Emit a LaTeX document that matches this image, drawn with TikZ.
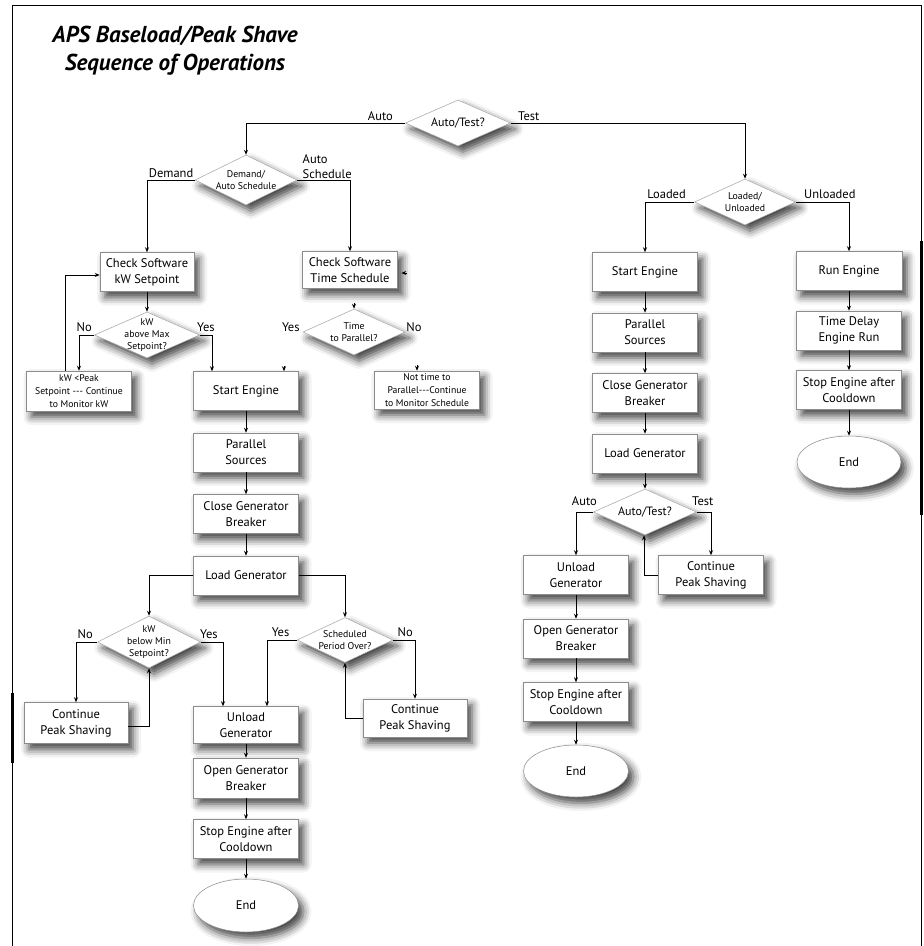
\documentclass[tikz,border=0pt]{standalone}
\usepackage{fontspec}
\setmainfont{PT Sans}
\usetikzlibrary{positioning,shapes.geometric}
\usetikzlibrary{arrows.meta}
\usetikzlibrary{shadows.blur}

\begin{document}
\begin{tikzpicture}[x=1pt, y=-1pt]
\tikzset{
    every node/.style = {align=center},
    soft/.style = {blur shadow={shadow xshift=5pt, shadow yshift=-6pt,
        shadow blur radius=8pt, shadow opacity=75}},
    box/.style = {draw=black!45, line width=.5pt, fill=white, rectangle, soft,
        minimum width=105pt, minimum height=39pt, inner sep=2pt,
        font=\fontsize{12.5}{16}\selectfont},
    smallbox/.style = {box, font=\fontsize{9.7}{13}\selectfont},
    decision/.style 2 args = {draw=black!35, line width=.5pt, fill=white,
        diamond, soft, minimum width=#1, minimum height=#2, inner sep=0pt},
    dtext/.style = {font=\fontsize{9.8}{12}\selectfont, inner sep=0pt},
    bigtext/.style = {font=\fontsize{12}{13}\selectfont, inner sep=0pt},
    terminal/.style = {draw=black!45, line width=.5pt, fill=white, ellipse, soft,
        minimum width=105pt, minimum height=53pt, inner sep=0pt,
        font=\fontsize{12.5}{14}\selectfont},
    lbl/.style = {font=\fontsize{12.5}{15}\selectfont, inner sep=0pt, align=left},
    >={Stealth[length=5pt, width=4pt]},
    link/.style = {draw, line width=.9pt, ->},
}

\useasboundingbox (0,0) rectangle (924,946);

% -------------------------------------------------------
\draw[line width=.8pt] (12,946) -- (12,5) -- (921,5) -- (921,946);
\draw[line width=3pt] (12,693) -- (12,763);
\draw[line width=3pt] (921,241) -- (921,515);

\node[anchor=north, inner sep=0pt,
      font=\fontsize{23}{28}\selectfont\bfseries\itshape] (title) at (175,26)
    {APS Baseload/Peak Shave\\Sequence of Operations};

% -------------------------------------------------------
\node[decision={105pt}{46pt}, label={[bigtext]center:Auto/Test?}] (autotest) at (458,123) {};

\node[decision={102pt}{50pt}, label={[dtext]center:{Demand/\\Auto Schedule}}] (demand) at (246,180) {};

\node[box, minimum width=94pt] (kwcheck) at (147,272) {Check Software\\kW Setpoint};

\node[box, minimum width=95pt, minimum height=37pt] (timecheck) at (350,270) {Check Software\\Time Schedule};

\node[decision={105pt}{46pt}, label={[dtext]center:{kW\\above Max\\Setpoint?}}] (maxkw) at (147,335) {};

\node[smallbox, minimum height=40pt] (monitorkw) at (79,391) {kW <Peak\\Setpoint -{}-{}- Continue\\to Monitor kW};

\node[decision={102pt}{46pt}, label={[dtext]center:{Time\\to Parallel?}}] (parallel) at (354,332) {};

\node[smallbox, minimum height=38pt] (monitorsched) at (427,390) {Not time to\\Parallel-{}-{}-Continue\\to Monitor Schedule};

\node[box] (start) at (246,391) {Start Engine};
\node[box, below=22pt of start] (sources) {Parallel\\Sources};
\node[box, below=22pt of sources] (close) {Close Generator\\Breaker};
\node[box, below=22pt of close] (load) {Load Generator};

\node[decision={103pt}{52pt}, label={[dtext]center:{kW\\below Min\\Setpoint?}}] (minkw) at (149,642) {};

\node[decision={96pt}{45pt}, label={[dtext]center:{Scheduled\\Period Over?}}] (period) at (345,640) {};

\node[box, minimum width=104pt, minimum height=41pt] (shaveA) at (76,723) {Continue\\Peak Shaving};
\node[box, minimum width=104pt, minimum height=38pt] (shaveB) at (415,718) {Continue\\Peak Shaving};

\node[box, minimum height=37pt] (unload) at (246,725) {Unload\\Generator};
\node[box, minimum height=40pt, below=14pt of unload] (open) {Open Generator\\Breaker};
\node[box, below=21pt of open] (stop) {Stop Engine after\\Cooldown};
\node[terminal, below=20pt of stop] (end) {End};

% -------------------------------------------------------
\node[decision={101pt}{46pt}, label={[dtext]center:{Loaded/\\Unloaded}}] (loaded) at (745,202) {};

\node[box] (startT) at (645,272) {Start Engine};
\node[box, below=21pt of startT] (sourcesT) {Parallel\\Sources};
\node[box, below=21pt of sourcesT] (closeT) {Close Generator\\Breaker};
\node[box, below=21pt of closeT] (loadT) {Load Generator};

\node[decision={103pt}{46pt}, label={[bigtext]center:Auto/Test?}] (autotestT) at (645,512) {};

\node[box] (unloadT) at (576,575) {Unload\\Generator};
\node[box] (shaveT) at (711,575) {Continue\\Peak Shaving};
\node[box, below=24pt of unloadT] (openT) {Open Generator\\Breaker};
\node[box, below=24pt of openT] (stopT) {Stop Engine after\\Cooldown};
\node[terminal, minimum height=52pt, below=23pt of stopT] (endT) {End};

\node[box, minimum width=106pt] (run) at (849,271) {Run Engine};
\node[box, below=20pt of run] (delay) {Time Delay\\Engine Run};
\node[box, below=20pt of delay] (stopU) {Stop Engine after\\Cooldown};
\node[terminal, minimum width=104pt, minimum height=52pt, below=26pt of stopU] (endU) {End};

% -------------------------------------------------------
\draw[link] (autotest.west) node[lbl, above left=2pt and 12pt] {Auto} -| (demand.north);
\draw[link] (autotest.east) node[lbl, above right=2pt and 7pt] {Test} -| (loaded.north);

\draw[link] (demand.west) node[lbl, above left=2pt and 1pt] {Demand} -| (kwcheck.north);
\draw[link] (demand.east) node[lbl, above right=1pt and 5pt] {Auto\\Schedule} -| (timecheck.north);

\path[link] (kwcheck) edge (maxkw);
\draw[link] (maxkw.west) node[lbl, above left=3pt and 2pt] {No} -| (monitorkw.north);
\draw[link] (maxkw.east) node[lbl, above right=3pt and -3pt] {Yes} -| ([xshift=-34pt]start.north);
\draw[link] ([xshift=-14pt]monitorkw.north) |- ([yshift=-3pt]kwcheck.west);

\node[lbl, above left=0pt and 3pt] (yesT) at (parallel.west) {Yes};
\node[lbl, above right=0pt and 1pt] (noT) at (parallel.east) {No};
\draw[link] ([yshift=5.5pt]parallel.north) -- (parallel.north);
\draw[link] ([xshift=38pt, yshift=5.5pt]start.north) -- ([xshift=38pt]start.north);
\draw[link] ([xshift=-10pt, yshift=5.5pt]monitorsched.north) -- ([xshift=-10pt]monitorsched.north);
\draw[link] ([xshift=9pt, yshift=-3pt]timecheck.east) -- ([xshift=3.5pt, yshift=-3pt]timecheck.east);

\path[link] (start) edge (sources);
\path[link] (sources) edge (close);
\path[link] (close) edge (load);

\draw[link] (load.west) -| (minkw.north);
\draw[link] (load.east) -| (period.north);

\draw[link] (minkw.west) node[lbl, above left=3pt and 4pt] {No} -| (shaveA.north);
\draw[link] ([yshift=-3pt]shaveA.east) -| (minkw.south);
\draw[link] (minkw.east) node[lbl, above right=3pt and -1pt] {Yes} -| ([xshift=-23pt]unload.north);

\draw[link] (period.west) node[lbl, above left=3pt and 7pt] {Yes} -| ([xshift=21pt]unload.north);
\draw[link] (period.east) node[lbl, above right=3pt and 4pt] {No} -| (shaveB.north);
\draw[link] (shaveB.west) -| (period.south);

\path[link] (unload) edge (open);
\path[link] (open) edge (stop);
\path[link] (stop) edge (end);

% -------------------------------------------------------
\draw[link] (loaded.west) node[lbl, above left=3pt and 8pt] {Loaded} -| (startT.north);
\draw[link] (loaded.east) node[lbl, above right=3pt and 8pt] {Unloaded} -| (run.north);

\path[link] (startT) edge (sourcesT);
\path[link] (sourcesT) edge (closeT);
\path[link] (closeT) edge (loadT);
\path[link] (loadT) edge (autotestT);

\draw[link] (autotestT.west) node[lbl, above left=6pt and -4pt] {Auto} -| (unloadT.north);
\draw[link] (autotestT.east) node[lbl, above right=6pt and -5pt] {Test} -| (shaveT.north);
\draw[link] (shaveT.west) -| ([xshift=-1pt]autotestT.south);

\path[link] (unloadT) edge (openT);
\path[link] (openT) edge (stopT);
\path[link] (stopT) edge (endT);

\path[link] (run) edge (delay);
\path[link] (delay) edge (stopU);
\path[link] (stopU) edge (endU);
\end{tikzpicture}
\end{document}
